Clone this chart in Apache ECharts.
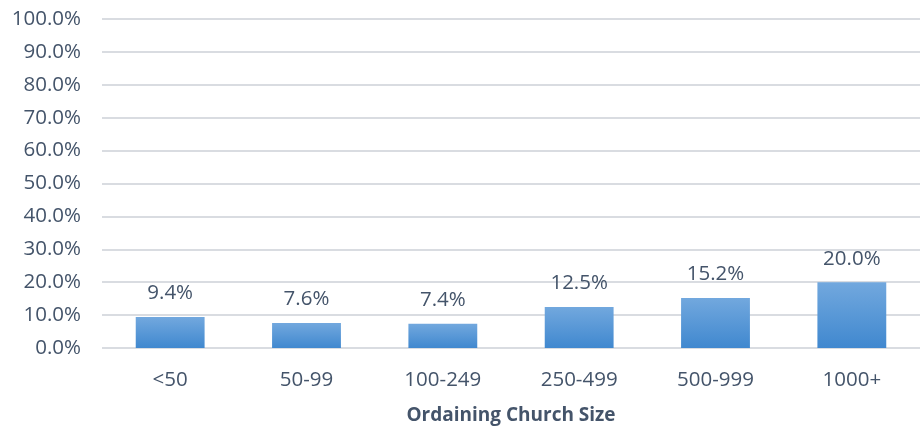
<!DOCTYPE html>
<html>
<head>
<meta charset="utf-8">
<script src="https://cdn.jsdelivr.net/npm/echarts@6/dist/echarts.min.js"></script>
<style>
  html, body { margin: 0; padding: 0; background: #fff; }
  #chart { width: 920px; height: 428px; }
</style>
</head>
<body>
<div id="chart"></div>
<script>
// Share by size of the ordaining church (percent)
const categories = ['<50', '50-99', '100-249', '250-499', '500-999', '1000+'];
const shares = [9.4, 7.6, 7.4, 12.5, 15.2, 20.0];
const axisTitle = 'Ordaining Church Size';

const textColor = '#44546A';
const font = '"Open Sans", "Noto Sans", sans-serif';

const chart = echarts.init(document.getElementById('chart'));
chart.setOption({
  animation: false,
  grid: { left: 102, right: 0, top: 19, bottom: 80, outerBoundsMode: 'none', containLabel: false },
  xAxis: {
    type: 'category',
    data: categories,
    axisLine: { show: false },
    axisTick: { show: false },
    axisLabel: { color: textColor, fontFamily: font, fontSize: 20.5, margin: 22 },
    name: axisTitle,
    nameLocation: 'middle',
    nameGap: 58,
    nameTextStyle: { color: textColor, fontFamily: font, fontSize: 19, fontWeight: 'bold' }
  },
  yAxis: {
    type: 'value',
    min: 0,
    max: 100,
    interval: 10,
    axisLine: { show: false },
    axisTick: { show: false },
    splitLine: { lineStyle: { color: '#D9DCE1', width: 2 } },
    axisLabel: {
      color: textColor, fontFamily: font, fontSize: 20.5, margin: 21,
      formatter: v => v.toFixed(1) + '%'
    }
  },
  series: [{
    type: 'bar',
    data: shares,
    barWidth: '50.5%',
    itemStyle: {
      color: new echarts.graphic.LinearGradient(0, 0, 0, 1, [
        { offset: 0, color: '#72A8DE' },
        { offset: 1, color: '#4088CF' }
      ])
    },
    label: {
      show: true,
      position: 'top',
      distance: 13,
      color: textColor,
      fontFamily: font,
      fontSize: 20.5,
      formatter: p => p.value.toFixed(1) + '%'
    }
  }]
});
</script>
</body>
</html>
